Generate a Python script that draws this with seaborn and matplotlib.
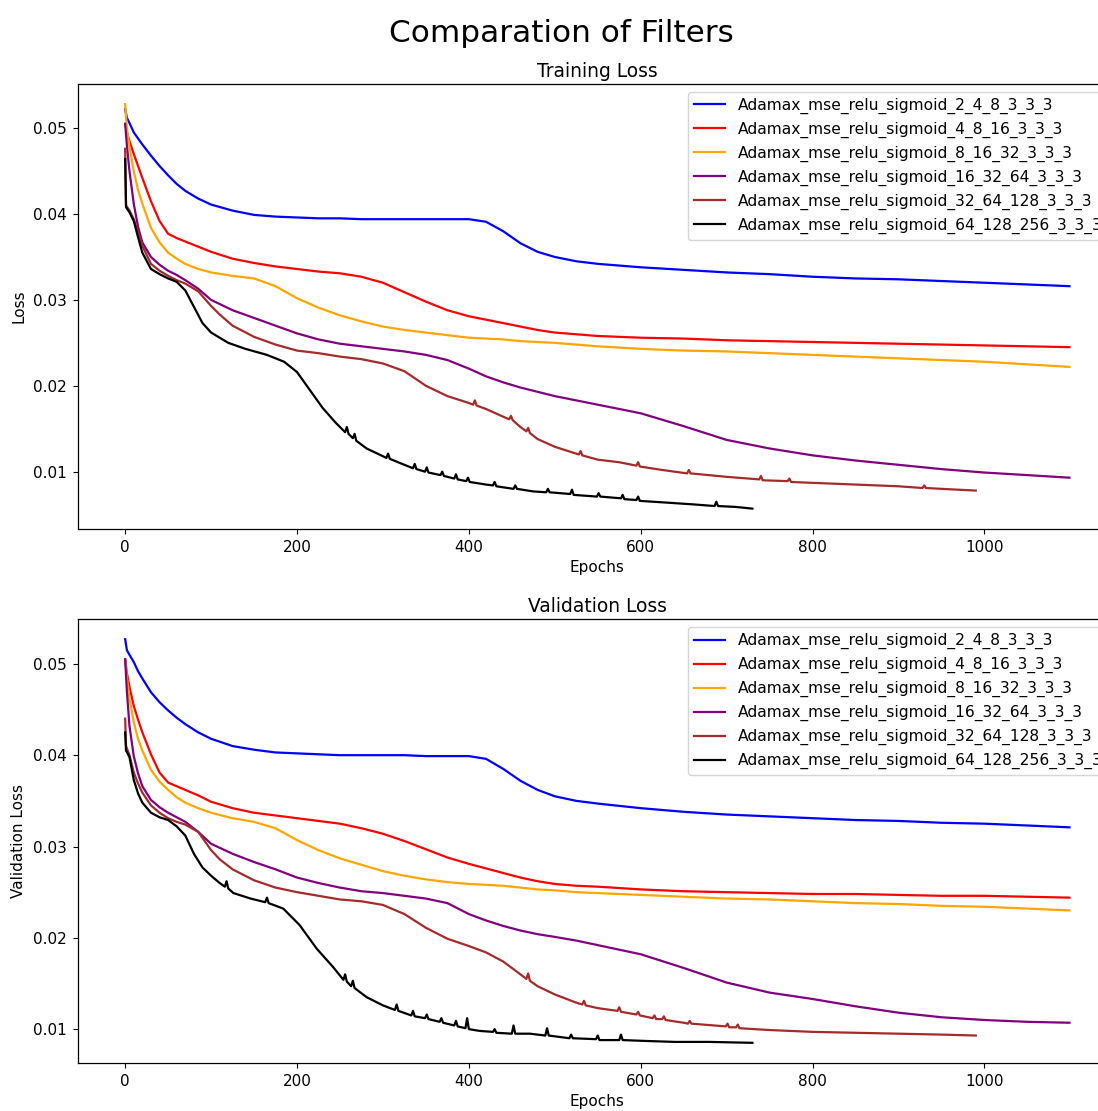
import matplotlib
matplotlib.use("Agg")
import matplotlib.pyplot as plt
import seaborn as sns

# shared epoch grid for the four long runs
epochs = [0, 2, 5, 10, 15, 20, 30, 40, 50, 60, 70, 85, 100, 125, 150, 175, 200,
          225, 250, 275, 300, 325, 350, 375, 400, 420, 440, 460, 480, 500, 525,
          550, 600, 650, 700, 750, 800, 850, 900, 950, 1000, 1050, 1099]

labels = ["Adamax_mse_relu_sigmoid_2_4_8_3_3_3",
          "Adamax_mse_relu_sigmoid_4_8_16_3_3_3",
          "Adamax_mse_relu_sigmoid_8_16_32_3_3_3",
          "Adamax_mse_relu_sigmoid_16_32_64_3_3_3",
          "Adamax_mse_relu_sigmoid_32_64_128_3_3_3",
          "Adamax_mse_relu_sigmoid_64_128_256_3_3_3"]
colors = ["blue", "red", "orange", "purple", "brown", "black"]

# ---------------- training loss ----------------
train_2_4_8 = [0.0522, 0.0512, 0.0506, 0.0495, 0.0488, 0.0481, 0.0468, 0.0456, 0.0445,
               0.0435, 0.0427, 0.0418, 0.0411, 0.0404, 0.0399, 0.0397, 0.0396, 0.0395,
               0.0395, 0.0394, 0.0394, 0.0394, 0.0394, 0.0394, 0.0394, 0.0391, 0.0380,
               0.0366, 0.0356, 0.0350, 0.0345, 0.0342, 0.0338, 0.0335, 0.0332, 0.0330,
               0.0327, 0.0325, 0.0324, 0.0322, 0.0320, 0.0318, 0.0316]
train_4_8_16 = [0.0505, 0.0495, 0.0485, 0.0470, 0.0456, 0.0442, 0.0415, 0.0392, 0.0377,
                0.0372, 0.0368, 0.0362, 0.0356, 0.0348, 0.0343, 0.0339, 0.0336, 0.0333,
                0.0331, 0.0327, 0.0320, 0.0309, 0.0298, 0.0288, 0.0281, 0.0277, 0.0273,
                0.0269, 0.0265, 0.0262, 0.0260, 0.0258, 0.0256, 0.0255, 0.0253, 0.0252,
                0.0251, 0.0250, 0.0249, 0.0248, 0.0247, 0.0246, 0.0245]
train_8_16_32 = [0.0528, 0.0500, 0.0478, 0.0450, 0.0428, 0.0412, 0.0384, 0.0367, 0.0355,
                 0.0348, 0.0342, 0.0336, 0.0332, 0.0328, 0.0325, 0.0316, 0.0302, 0.0291,
                 0.0282, 0.0275, 0.0269, 0.0265, 0.0262, 0.0259, 0.0256, 0.0255, 0.0254,
                 0.0252, 0.0251, 0.0250, 0.0248, 0.0246, 0.0243, 0.0241, 0.0240, 0.0238,
                 0.0236, 0.0234, 0.0232, 0.0230, 0.0228, 0.0225, 0.0222]
train_16_32_64 = [0.0505, 0.0480, 0.0450, 0.0412, 0.0385, 0.0367, 0.0350, 0.0341, 0.0334,
                  0.0329, 0.0323, 0.0313, 0.0300, 0.0288, 0.0279, 0.0270, 0.0261, 0.0254,
                  0.0249, 0.0246, 0.0243, 0.0240, 0.0236, 0.0230, 0.0220, 0.0211, 0.0204,
                  0.0198, 0.0193, 0.0188, 0.0183, 0.0178, 0.0168, 0.0153, 0.0137, 0.0127,
                  0.0119, 0.0113, 0.0108, 0.0103, 0.0099, 0.0096, 0.0093]

train_32_64_128_epochs = [0, 1, 5, 10, 15, 20, 30, 40, 50, 60, 70, 85, 100, 110, 125, 150,
                          175, 200, 225, 250, 275, 300, 325, 350, 375, 400, 405, 407, 409,
                          420, 440, 447, 449, 451, 460, 467, 469, 471, 480, 500, 525, 528,
                          530, 532, 550, 575, 595, 597, 599, 625, 654, 656, 658, 700, 738,
                          740, 742, 771, 773, 775, 800, 850, 900, 928, 930, 932, 950, 990]
train_32_64_128 = [0.0476, 0.0410, 0.0404, 0.0394, 0.0379, 0.0363, 0.0342, 0.0334, 0.0328,
                   0.0323, 0.0319, 0.0310, 0.0293, 0.0283, 0.0270, 0.0257, 0.0248, 0.0241,
                   0.0238, 0.0234, 0.0231, 0.0226, 0.0217, 0.0200, 0.0188, 0.0180, 0.0178,
                   0.0183, 0.0177, 0.0173, 0.0164, 0.0161, 0.0165, 0.0160, 0.0152, 0.0147,
                   0.0151, 0.0145, 0.0138, 0.0129, 0.0121, 0.0120, 0.0124, 0.0119, 0.0114,
                   0.0111, 0.0107, 0.0111, 0.0106, 0.0102, 0.0098, 0.0102, 0.0098, 0.0094,
                   0.0091, 0.0095, 0.0090, 0.0089, 0.0092, 0.0088, 0.0087, 0.0085, 0.0083,
                   0.0081, 0.0084, 0.0081, 0.0080, 0.0078]

train_64_128_256_epochs = [0, 1, 5, 10, 15, 20, 30, 40, 50, 60, 70, 80, 90, 100, 120, 140,
                           165, 185, 200, 215, 230, 245, 256, 258, 260, 265, 267, 269, 281,
                           300, 304, 306, 308, 320, 335, 337, 339, 349, 351, 353, 367, 369,
                           371, 383, 385, 387, 397, 399, 401, 420, 428, 430, 432, 452, 454,
                           456, 475, 490, 492, 494, 518, 520, 522, 549, 551, 553, 577, 579,
                           581, 595, 597, 599, 630, 660, 686, 688, 690, 710, 730]
train_64_128_256 = [0.0464, 0.0408, 0.0402, 0.0392, 0.0373, 0.0355, 0.0336, 0.0330, 0.0325,
                    0.0321, 0.0311, 0.0292, 0.0273, 0.0262, 0.0250, 0.0243, 0.0236, 0.0228,
                    0.0216, 0.0195, 0.0174, 0.0157, 0.0146, 0.0152, 0.0144, 0.0139, 0.0144,
                    0.0136, 0.0127, 0.0118, 0.0116, 0.0121, 0.0115, 0.0110, 0.0104, 0.0109,
                    0.0103, 0.0100, 0.0105, 0.0099, 0.0096, 0.0100, 0.0095, 0.0092, 0.0097,
                    0.0091, 0.0089, 0.0093, 0.0088, 0.0085, 0.0084, 0.0088, 0.0083, 0.0080,
                    0.0084, 0.0080, 0.0077, 0.0076, 0.0080, 0.0076, 0.0074, 0.0079, 0.0073,
                    0.0071, 0.0075, 0.0071, 0.0069, 0.0073, 0.0068, 0.0067, 0.0071, 0.0066,
                    0.0064, 0.0062, 0.0060, 0.0065, 0.0060, 0.0059, 0.0057]

# ---------------- validation loss ----------------
val_2_4_8 = [0.0527, 0.0515, 0.0510, 0.0502, 0.0492, 0.0484, 0.0469, 0.0458, 0.0449,
             0.0441, 0.0434, 0.0425, 0.0418, 0.0410, 0.0406, 0.0403, 0.0402, 0.0401,
             0.0400, 0.0400, 0.0400, 0.0400, 0.0399, 0.0399, 0.0399, 0.0396, 0.0385,
             0.0372, 0.0362, 0.0355, 0.0350, 0.0347, 0.0342, 0.0338, 0.0335, 0.0333,
             0.0331, 0.0329, 0.0328, 0.0326, 0.0325, 0.0323, 0.0321]
val_4_8_16 = [0.0505, 0.0490, 0.0475, 0.0454, 0.0439, 0.0425, 0.0401, 0.0381, 0.0370,
              0.0366, 0.0362, 0.0356, 0.0349, 0.0342, 0.0337, 0.0334, 0.0331, 0.0328,
              0.0325, 0.0320, 0.0314, 0.0306, 0.0297, 0.0288, 0.0281, 0.0276, 0.0271,
              0.0266, 0.0262, 0.0259, 0.0257, 0.0256, 0.0253, 0.0251, 0.0250, 0.0249,
              0.0248, 0.0248, 0.0247, 0.0246, 0.0246, 0.0245, 0.0244]
val_8_16_32 = [0.0505, 0.0485, 0.0462, 0.0436, 0.0418, 0.0405, 0.0384, 0.0371, 0.0362,
               0.0354, 0.0348, 0.0342, 0.0337, 0.0331, 0.0327, 0.0320, 0.0307, 0.0296,
               0.0287, 0.0280, 0.0273, 0.0268, 0.0264, 0.0261, 0.0259, 0.0258, 0.0257,
               0.0255, 0.0253, 0.0252, 0.0250, 0.0249, 0.0247, 0.0245, 0.0243, 0.0242,
               0.0240, 0.0238, 0.0237, 0.0235, 0.0234, 0.0232, 0.0230]
val_16_32_64 = [0.0505, 0.0470, 0.0432, 0.0399, 0.0380, 0.0366, 0.0351, 0.0343, 0.0337,
                0.0332, 0.0327, 0.0316, 0.0303, 0.0292, 0.0283, 0.0275, 0.0266, 0.0260,
                0.0255, 0.0251, 0.0249, 0.0246, 0.0243, 0.0238, 0.0226, 0.0219, 0.0213,
                0.0208, 0.0204, 0.0201, 0.0197, 0.0192, 0.0182, 0.0167, 0.0151, 0.0140,
                0.0133, 0.0125, 0.0118, 0.0113, 0.0110, 0.0108, 0.0107]

val_32_64_128_epochs = [0, 1, 5, 10, 15, 20, 30, 40, 50, 60, 70, 85, 100, 110, 125, 150,
                        175, 200, 225, 250, 275, 300, 325, 350, 375, 400, 420, 440, 460,
                        467, 469, 471, 480, 500, 525, 532, 534, 536, 550, 573, 575, 577,
                        595, 597, 599, 614, 616, 618, 625, 627, 629, 650, 655, 657, 659,
                        699, 701, 703, 711, 713, 715, 750, 800, 850, 900, 950, 990]
val_32_64_128 = [0.0440, 0.0410, 0.0400, 0.0381, 0.0369, 0.0359, 0.0345, 0.0337, 0.0331,
                 0.0327, 0.0324, 0.0316, 0.0296, 0.0286, 0.0275, 0.0263, 0.0255, 0.0250,
                 0.0246, 0.0242, 0.0240, 0.0236, 0.0226, 0.0211, 0.0199, 0.0191, 0.0184,
                 0.0174, 0.0160, 0.0155, 0.0161, 0.0153, 0.0147, 0.0138, 0.0129, 0.0127,
                 0.0131, 0.0126, 0.0123, 0.0120, 0.0124, 0.0119, 0.0116, 0.0119, 0.0115,
                 0.0112, 0.0115, 0.0111, 0.0111, 0.0114, 0.0110, 0.0107, 0.0106, 0.0109,
                 0.0106, 0.0103, 0.0106, 0.0102, 0.0102, 0.0105, 0.0101, 0.0099, 0.0097,
                 0.0096, 0.0095, 0.0094, 0.0093]

val_64_128_256_epochs = [0, 1, 5, 10, 15, 20, 30, 40, 50, 60, 70, 80, 90, 100, 110, 116,
                         118, 120, 126, 146, 163, 165, 167, 184, 203, 223, 242, 254, 256,
                         258, 263, 265, 267, 281, 300, 314, 316, 318, 333, 335, 337, 349,
                         351, 353, 366, 368, 370, 383, 385, 387, 396, 398, 400, 413, 428,
                         430, 432, 450, 452, 454, 471, 489, 491, 493, 517, 519, 521, 548,
                         550, 552, 575, 577, 579, 607, 640, 680, 730]
val_64_128_256 = [0.0425, 0.0405, 0.0398, 0.0373, 0.0358, 0.0348, 0.0337, 0.0332, 0.0329,
                  0.0322, 0.0312, 0.0292, 0.0277, 0.0268, 0.0260, 0.0256, 0.0262, 0.0254,
                  0.0249, 0.0243, 0.0239, 0.0244, 0.0238, 0.0232, 0.0214, 0.0188, 0.0168,
                  0.0154, 0.0160, 0.0152, 0.0147, 0.0153, 0.0145, 0.0135, 0.0126, 0.0121,
                  0.0127, 0.0120, 0.0115, 0.0120, 0.0114, 0.0112, 0.0116, 0.0111, 0.0108,
                  0.0112, 0.0107, 0.0104, 0.0109, 0.0103, 0.0101, 0.0112, 0.0100, 0.0098,
                  0.0097, 0.0100, 0.0096, 0.0095, 0.0104, 0.0095, 0.0095, 0.0093, 0.0101,
                  0.0093, 0.0090, 0.0094, 0.0090, 0.0089, 0.0093, 0.0088, 0.0088, 0.0094,
                  0.0088, 0.0087, 0.0086, 0.0086, 0.0085]

train_runs = [(epochs, train_2_4_8), (epochs, train_4_8_16), (epochs, train_8_16_32),
              (epochs, train_16_32_64), (train_32_64_128_epochs, train_32_64_128),
              (train_64_128_256_epochs, train_64_128_256)]
val_runs = [(epochs, val_2_4_8), (epochs, val_4_8_16), (epochs, val_8_16_32),
            (epochs, val_16_32_64), (val_32_64_128_epochs, val_32_64_128),
            (val_64_128_256_epochs, val_64_128_256)]

# the screenshot looks like a default matplotlib figure blown up ~1.1x
plt.rcParams.update({"xtick.major.size": 3.9, "ytick.major.size": 3.9,
                     "xtick.major.pad": 3.9, "ytick.major.pad": 3.9,
                     "axes.linewidth": 0.9})

fig = plt.figure(figsize=(10.98, 11.11), dpi=100)
# the original screenshot is cut on the right, so the axes run past the edge
ax1 = fig.add_axes([0.071, 0.524, 0.946, 0.4005])
ax2 = fig.add_axes([0.071, 0.0432, 0.946, 0.3996])

for ax, runs, title, ylabel in [(ax1, train_runs, "Training Loss", "Loss"),
                                (ax2, val_runs, "Validation Loss", "Validation Loss")]:
    for (x, y), lab, c in zip(runs, labels, colors):
        sns.lineplot(x=x, y=y, color=c, label=lab, linewidth=1.6, ax=ax)
    ax.set_title(title, fontsize=13.4, pad=5)
    ax.set_xlabel("Epochs", fontsize=11, labelpad=4)
    ax.set_ylabel(ylabel, fontsize=11, labelpad=5)
    ax.set_yticks([0.01, 0.02, 0.03, 0.04, 0.05])
    ax.set_xticks([0, 200, 400, 600, 800, 1000])
    ax.tick_params(labelsize=11)
    ax.legend(loc="upper right", fontsize=11.2)

fig.suptitle("Comparation of Filters", fontsize=22.4, x=0.511, y=0.970, va="center")
fig.savefig("out.png", dpi=100)
